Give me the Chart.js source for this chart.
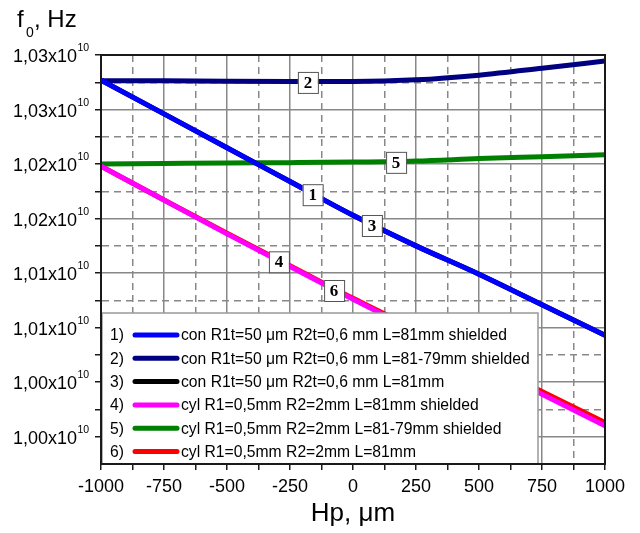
<!DOCTYPE html>
<html>
<head>
<meta charset="utf-8">
<script src="https://cdn.jsdelivr.net/npm/chart.js@4.4.1/dist/chart.umd.min.js"></script>
<style>
html, body { margin: 0; padding: 0; background: #fff; }
</style>
</head>
<body>
<canvas id="myChart" width="640" height="533"></canvas>
<script>
//----------------------------------- data
const hp = [-1000, -750, -500, -250, 0, 250, 500, 750, 1000]   // Hp, um
// f0 in units of 10^10 Hz
const con1 = [1.0277, 1.0246, 1.0215, 1.0184, 1.0153, 1.0125, 1.0099, 1.0071, 1.0043]
const con2 = [1.02765, 1.02763, 1.0276, 1.02758, 1.02757, 1.02772, 1.02815, 1.02878, 1.02945]
const con3 = [1.0277, 1.0246, 1.0215, 1.0184, 1.0153, 1.0125, 1.0099, 1.0071, 1.0043]
const cyl4 = [1.0198, 1.0167, 1.0136, 1.0106, 1.0076, 1.0047, 1.0018, 0.9989, 0.9960]
const cyl5 = [1.0200, 1.02005, 1.0201, 1.02013, 1.02018, 1.02028, 1.0205, 1.02068, 1.02086]
const cyl6 = [1.0198, 1.0167, 1.01365, 1.01068, 1.0077, 1.00485, 1.0020, 0.99915, 0.9963]

const seriesNames = [
    'con R1t=50 \u03bcm R2t=0,6 mm L=81mm shielded',
    'con R1t=50 \u03bcm R2t=0,6 mm L=81-79mm shielded',
    'con R1t=50 \u03bcm R2t=0,6 mm L=81mm',
    'cyl R1=0,5mm R2=2mm L=81mm shielded',
    'cyl R1=0,5mm R2=2mm L=81-79mm shielded',
    'cyl R1=0,5mm R2=2mm L=81mm'
]
const seriesColors = ['#0000ff', '#000080', '#000000', '#ff00ff', '#008000', '#ff0000']
const seriesData = [con1, con2, con3, cyl4, cyl5, cyl6]

const xTickValues = [-1000, -750, -500, -250, 0, 250, 500, 750, 1000]
const yTickValues = [1.030, 1.025, 1.020, 1.015, 1.010, 1.005, 1.000, 0.995]
const yTickLabels = ['1,03', '1,03', '1,02', '1,02', '1,01', '1,01', '1,00', '1,00']

// boxed curve numbers: text, which series it sits on, at which Hp
const markText = ['2', '1', '5', '3', '4', '6']
const markSeries = [1, 0, 4, 2, 3, 3]
const markHp = [-179, -160, 171, 75, -294, -75]

const FONT = '"Liberation Sans", Arial, sans-serif'

function valueAt(arr, x) {
    for (let i = 0; i < hp.length - 1; i++) {
        if (x >= hp[i] && x <= hp[i + 1]) {
            const t = (x - hp[i]) / (hp[i + 1] - hp[i])
            return arr[i] + t * (arr[i + 1] - arr[i])
        }
    }
    return arr[arr.length - 1]
}

const decorations = {
    id: 'decorations',
    afterDatasetsDraw(chart) {
        const ctx = chart.ctx
        const a = chart.chartArea
        const xs = chart.scales.x, ys = chart.scales.y
        ctx.save()
        // boxed numbers on the curves
        ctx.font = 'bold 17px "Liberation Serif", "DejaVu Serif", serif'
        ctx.textAlign = 'center'
        ctx.textBaseline = 'middle'
        markText.forEach((t, i) => {
            const px = xs.getPixelForValue(markHp[i])
            const py = ys.getPixelForValue(valueAt(seriesData[markSeries[i]], markHp[i])) + 1
            ctx.fillStyle = '#fff'
            ctx.fillRect(px - 10, py - 10.5, 20, 21)
            ctx.strokeStyle = '#555'
            ctx.lineWidth = 1
            ctx.strokeRect(px - 10 + 0.5, py - 10.5 + 0.5, 20, 21)
            ctx.fillStyle = '#000'
            ctx.fillText(t, px, py + 1)
        })
        // legend box
        const lx = a.left + 1, ly = 313, lw = 436, lh = a.bottom - 313
        ctx.fillStyle = '#fff'
        ctx.fillRect(lx, ly, lw, lh)
        ctx.strokeStyle = '#999'
        ctx.lineWidth = 1.5
        ctx.strokeRect(lx, ly, lw, lh)
        ctx.font = '15.7px ' + FONT
        ctx.textBaseline = 'middle'
        seriesNames.forEach((name, i) => {
            const y = 335 + i * 23.3
            ctx.fillStyle = '#000'
            ctx.textAlign = 'left'
            ctx.fillText((i + 1) + ')', 110, y + 1)
            ctx.strokeStyle = seriesColors[i]
            ctx.lineWidth = 5
            ctx.lineCap = 'round'
            ctx.beginPath()
            ctx.moveTo(135, y)
            ctx.lineTo(177, y)
            ctx.stroke()
            ctx.fillText(name, 181, y + 1)
        })
        // frame
        ctx.lineCap = 'butt'
        ctx.strokeStyle = '#1a1a1a'
        ctx.lineWidth = 2
        ctx.strokeRect(a.left, a.top, a.right - a.left, a.bottom - a.top)
        ctx.restore()
    },
    afterDraw(chart) {
        const ctx = chart.ctx
        const ys = chart.scales.y
        ctx.save()
        ctx.fillStyle = '#000'
        ctx.textBaseline = 'alphabetic'
        yTickValues.forEach((v, i) => {
            const py = ys.getPixelForValue(v)
            ctx.font = '18px ' + FONT
            ctx.textAlign = 'right'
            ctx.fillText(yTickLabels[i] + 'x10', 77, py + 7)
            ctx.font = '10.5px ' + FONT
            ctx.textAlign = 'left'
            ctx.fillText('10', 77.5, py - 4)
        })
        // y title f0, Hz
        ctx.font = '24px ' + FONT
        ctx.fillText('f', 17, 27)
        ctx.font = '14px ' + FONT
        ctx.fillText('0', 26, 37)
        ctx.font = '24px ' + FONT
        ctx.fillText(', Hz', 34, 27)
        ctx.restore()
    }
}

function isMinorX(v) { return Math.round((v + 1000) / 125) % 2 === 1 }
function isMinorY(v) { return Math.round((1.030 - v) / 0.0025) % 2 === 1 }

const chart = document.getElementById('myChart')
const ctx = chart.getContext('2d')
new Chart(ctx, {
    type: 'line',
    data: {
        datasets: seriesData.map((arr, i) => ({
            label: seriesNames[i],
            data: arr.map((v, j) => ({ x: hp[j], y: v })),
            borderColor: seriesColors[i],
            backgroundColor: seriesColors[i],
            borderWidth: 5,
            pointRadius: 0,
            fill: false,
            cubicInterpolationMode: 'monotone'
        }))
    },
    options: {
        responsive: false,
        animation: false,
        devicePixelRatio: 1,
        layout: { padding: { top: 55, right: 35, left: 0, bottom: 0 } },
        plugins: {
            legend: { display: false },
            tooltip: { enabled: false }
        },
        scales: {
            x: {
                type: 'linear',
                min: -1000,
                max: 1000,
                afterBuildTicks: axis => {
                    const t = []
                    for (let k = 0; k <= 16; k++) t.push({ value: -1000 + k * 125 })
                    axis.ticks = t
                },
                afterFit: axis => { axis.height = 69 },
                ticks: {
                    autoSkip: false,
                    maxRotation: 0,
                    padding: 6,
                    color: '#000',
                    font: { family: FONT, size: 18 },
                    callback: v => (isMinorX(v) ? '' : String(xTickValues[Math.round((v + 1000) / 250)]))
                },
                grid: {
                    color: '#888',
                    lineWidth: 1.5,
                    tickLength: 6,
                    tickColor: '#1a1a1a',
                    tickWidth: 1.5
                },
                border: {
                    display: true,
                    color: '#1a1a1a',
                    width: 2,
                    dash: c => (c.tick && isMinorX(c.tick.value) ? [7, 5] : [])
                },
                title: {
                    display: true,
                    text: 'Hp, \u03bcm',
                    color: '#000',
                    font: { family: FONT, size: 26 },
                    padding: { top: 0, bottom: 4 }
                }
            },
            y: {
                type: 'linear',
                min: 0.9925,
                max: 1.030,
                afterBuildTicks: axis => {
                    const t = []
                    for (let k = 0; k <= 14; k++) t.push({ value: 1.030 - k * 0.0025 })
                    axis.ticks = t
                },
                afterFit: axis => { axis.width = 101 },
                ticks: {
                    autoSkip: false,
                    callback: () => ''
                },
                grid: {
                    color: '#888',
                    lineWidth: 1.5,
                    tickLength: 6,
                    tickColor: '#1a1a1a',
                    tickWidth: 1.5
                },
                border: {
                    display: true,
                    color: '#1a1a1a',
                    width: 2,
                    dash: c => (c.tick && isMinorY(c.tick.value) ? [7, 5] : [])
                }
            }
        }
    },
    plugins: [decorations]
})
</script>
</body>
</html>
